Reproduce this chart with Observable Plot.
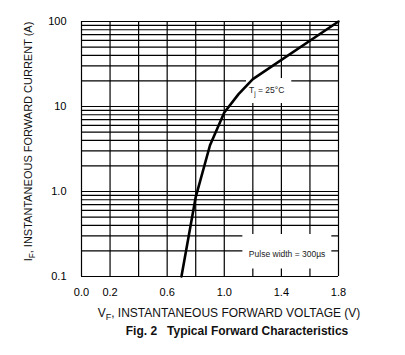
<!DOCTYPE html>
<html>
<head>
<meta charset="utf-8">
<script src="https://cdn.jsdelivr.net/npm/d3@7"></script>
<script src="https://cdn.jsdelivr.net/npm/@observablehq/plot@0.6"></script>
<style>
  html, body { margin: 0; padding: 0; background: #fff; }
</style>
</head>
<body>
<script>
// ---- data ----
const voltage = [0.70, 0.80, 0.90, 1.00, 1.10, 1.20, 1.80];
const current = [0.10, 0.86, 3.5, 8.5, 14, 21, 100];

const xGrid = [0, 0.2, 0.4, 0.6, 0.8, 1.0, 1.2, 1.4, 1.6, 1.8];
const yGrid = [0.1, 0.2, 0.3, 0.4, 0.5, 0.6, 0.7, 0.8, 0.9,
               1, 2, 3, 4, 5, 6, 7, 8, 9,
               10, 20, 30, 40, 50, 60, 70, 80, 90, 100];

const xTicks = [0, 0.2, 0.6, 1.0, 1.4, 1.8];
const xTickLabels = ["0.0", "0.2", "0.6", "1.0", "1.4", "1.8"];
const yTicks = [0.1, 1, 10, 100];
const yTickLabels = ["0.1", "1.0", "10", "100"];

const xLabel = "V_F, INSTANTANEOUS FORWARD VOLTAGE (V)";
const yLabel = "I_F, INSTANTANEOUS FORWARD CURRENT (A)";
const title = "Fig. 2\u00a0\u00a0\u00a0Typical Forward Characteristics";

const noteTemp = ["T_j = 25°C"];
const noteTempV = [1.173];
const noteTempI = [15.5];
const notePulse = ["Pulse width = 300µs"];
const notePulseV = [1.44];
const notePulseI = [0.185];

// ---- chart ----
const curve = voltage.map((v, i) => ({v, a: current[i]}));
const ink = "#000";
const font = "'Liberation Sans', Arial, Helvetica, sans-serif";

const chart = Plot.plot({
  width: 405,
  height: 355,
  marginLeft: 81,
  marginRight: 67,
  marginTop: 21,
  marginBottom: 79,
  style: {fontFamily: font, fontSize: "11px", color: ink, background: "#fff"},
  x: {domain: [0, 1.8]},
  y: {type: "log", domain: [0.1, 100]},
  marks: [
    Plot.ruleY(yGrid, {stroke: ink, strokeWidth: 1.2}),
    Plot.ruleX(xGrid, {stroke: ink, strokeWidth: 1.2}),
    Plot.line(curve, {x: "v", y: "a", stroke: ink, strokeWidth: 2.6, strokeLinejoin: "miter"}),
    Plot.text(noteTemp, {x: noteTempV, y: noteTempI, text: d => d, textAnchor: "start", fontSize: 8.5, fill: "#222"}),
    Plot.text(notePulse, {x: notePulseV, y: notePulseI, text: d => d, textAnchor: "middle", fontSize: 8.5, fill: "#222"}),
    Plot.axisX(xTicks, {tickFormat: d => xTickLabels[xTicks.indexOf(d)], tickSize: 0, tickPadding: 12, fontSize: 11, label: null}),
    Plot.axisY(yTicks, {tickFormat: d => yTickLabels[yTicks.indexOf(d)], tickSize: 0, tickPadding: 15, fontSize: 11, label: null}),
    Plot.text([xLabel], {frameAnchor: "bottom", text: d => d, textAnchor: "middle", lineAnchor: "middle", dx: 19, dy: 37, fontSize: 12, fill: "#111"}),
    Plot.text([title], {frameAnchor: "bottom", text: d => d, textAnchor: "middle", lineAnchor: "middle", dx: 27, dy: 55, fontSize: 12, fontWeight: "bold", fill: "#111"}),
    Plot.text([yLabel], {frameAnchor: "left", text: d => d, rotate: -90, textAnchor: "middle", lineAnchor: "middle", dx: -53, dy: -7.5, fontSize: 11, fill: "#111"})
  ]
});
document.body.append(chart);

// subscripts (V_F, I_F, T_j)
const NS = "http://www.w3.org/2000/svg";
chart.querySelectorAll("text").forEach(t => {
  const m = t.textContent.match(/^(.*?)_(\w)(.*)$/);
  if (!m) return;
  t.textContent = "";
  const a = document.createElementNS(NS, "tspan"); a.textContent = m[1];
  const b = document.createElementNS(NS, "tspan"); b.textContent = m[2];
  b.setAttribute("dy", "3"); b.setAttribute("font-size", "75%");
  const c = document.createElementNS(NS, "tspan"); c.textContent = m[3];
  c.setAttribute("dy", "-3");
  t.append(a, b, c);
});

// white label boxes behind the annotations (cover the grid, under the curve)
const lineG = chart.querySelector('g[aria-label="line"]');
const svgBox = chart.getBoundingClientRect();
const pads = [
  {match: "Pulse width", l: 6.5, r: 6, t: 14.5, b: 10},
  {match: "25°C", l: 3, r: 7, t: 7, b: 5}
];
chart.querySelectorAll("text").forEach(t => {
  const p = pads.find(p => t.textContent.includes(p.match));
  if (!p) return;
  const bb = t.getBoundingClientRect();
  const r = document.createElementNS(NS, "rect");
  r.setAttribute("x", bb.left - svgBox.left - p.l);
  r.setAttribute("y", bb.top - svgBox.top - p.t);
  r.setAttribute("width", bb.width + p.l + p.r);
  r.setAttribute("height", bb.height + p.t + p.b);
  r.setAttribute("fill", "#fff");
  chart.insertBefore(r, lineG);
});
</script>
</body>
</html>
